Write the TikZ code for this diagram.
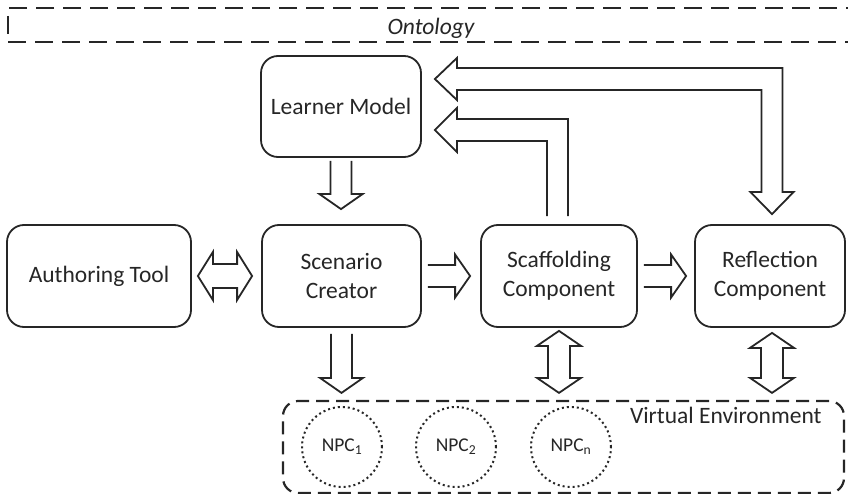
\documentclass[tikz,border=0pt]{standalone}
\usepackage{fontspec}
\setmainfont{Carlito}
\usetikzlibrary{calc}
\definecolor{ink}{HTML}{262626}

% block arrows (outlined, open at the tail)
\newcommand\downblock[2]{%
  \draw[blk] let \p1=(#1), \p2=(#2) in
    (\x1-10.5pt,\y1) -- (\x1-10.5pt,\y2+15pt) -- (\x1-21.5pt,\y2+15pt) -- (\x1,\y2)
    -- (\x1+21.5pt,\y2+15pt) -- (\x1+10.5pt,\y2+15pt) -- (\x1+10.5pt,\y1);}
\newcommand\rightblock[2]{%
  \draw[blk] let \p1=(#1), \p2=(#2) in
    (\x1,\y1+11pt) -- (\x2-15pt,\y1+11pt) -- (\x2-15pt,\y1+21.5pt) -- (\x2,\y1)
    -- (\x2-15pt,\y1-21.5pt) -- (\x2-15pt,\y1-11pt) -- (\x1,\y1-11pt);}
% double-headed block arrows (closed outline)
\newcommand\updownblock[2]{%
  \draw[blk] let \p1=(#1), \p2=(#2) in
    (\x1,\y1) -- (\x1+22pt,\y1-15pt) -- (\x1+11pt,\y1-15pt) -- (\x1+11pt,\y2+15pt)
    -- (\x1+22pt,\y2+15pt) -- (\x1,\y2) -- (\x1-22pt,\y2+15pt) -- (\x1-11pt,\y2+15pt)
    -- (\x1-11pt,\y1-15pt) -- (\x1-22pt,\y1-15pt) -- cycle;}
\newcommand\leftrightblock[2]{%
  \draw[blk] let \p1=(#1), \p2=(#2) in
    (\x1,\y1) -- (\x1+15pt,\y1+24pt) -- (\x1+15pt,\y1+12pt) -- (\x2-15pt,\y1+12pt)
    -- (\x2-15pt,\y1+24pt) -- (\x2,\y1) -- (\x2-15pt,\y1-24pt) -- (\x2-15pt,\y1-12pt)
    -- (\x1+15pt,\y1-12pt) -- (\x1+15pt,\y1-24pt) -- cycle;}

\begin{document}
\begin{tikzpicture}[x=1pt,y=-1pt,
  every node/.style={text=ink},
  txt/.style={font=\fontsize{23.5}{29}\selectfont},
  box/.style={txt, draw=ink, line width=1.8pt, rounded corners=17pt, align=center, inner sep=0pt},
  blk/.style={draw=ink, line width=1.8pt, line join=miter},
  ontozone/.style={draw=ink, line width=2.2pt, dash pattern=on 18pt off 9pt, inner sep=0pt},
  envzone/.style={draw=ink, line width=2.2pt, dash pattern=on 13pt off 7pt, rounded corners=15pt, inner sep=0pt},
  npc/.style={circle, draw=ink, line width=2pt, dash pattern=on 2pt off 3pt,
              minimum size=80pt, inner sep=0pt, font=\fontsize{19.5}{23}\selectfont},
]
\path[use as bounding box, clip] (0,0) rectangle (848,494);

% ontology band across the top
\node[ontozone, minimum width=870pt, minimum height=34pt, anchor=west] (onto) at (7,25) {};
\node[txt, font=\fontsize{23.5}{29}\selectfont\itshape] (ontolabel) at ($(onto.west)+(424,3)$) {Ontology};

% components
\node[box, minimum width=160pt, minimum height=101pt] (learner)  at (341,106.5) {Learner Model};
\node[box, minimum width=184pt, minimum height=102pt] (author)   at (99,276)    {Authoring Tool};
\node[box, minimum width=159pt, minimum height=102pt] (scenario) at (341.5,276) {Scenario\\Creator};
\node[box, minimum width=156pt, minimum height=102pt] (scaff)    at (559,276)   {Scaffolding\\Component};
\node[box, minimum width=150pt, minimum height=102pt] (refl)     at (770,276)   {Reflection\\Component};

% virtual environment with its NPCs
\node[envzone, minimum width=561pt, minimum height=92pt] (ve) at (563.5,447) {};
\node[txt, anchor=east] (velabel) at ($(ve.north east)+(-20,16)$) {Virtual Environment};
\node[npc] (npc1) at (342,447) {NPC\textsubscript{1}};
\node[npc] (npc2) at (456,447) {NPC\textsubscript{2}};
\node[npc] (npcn) at (571,447) {NPC\textsubscript{n}};

% straight block arrows
\downblock{$(learner.south)+(0,3)$}{$(scenario.north)+(0,-15)$}
\leftrightblock{$(author.east)+(6,0)$}{$(scenario.west)+(-9,0)$}
\rightblock{$(scenario.east)+(6,0)$}{$(scaff.west)+(-10,0)$}
\rightblock{$(scaff.east)+(6,0)$}{$(refl.west)+(-8,0)$}
\downblock{$(scenario.south)+(0,6)$}{$(ve.north -| scenario.south)+(0,-7)$}
\updownblock{$(scaff.south)+(0,3)$}{$(ve.north -| scaff.south)+(0,-7)$}
\updownblock{$(refl.south)+(2,5)$}{$(ve.north -| refl.south)+(2,-7)$}

% scaffolding feeds back to the learner model
\draw[blk] let \p1=($(scaff.north)+(-1.5,-8)$), \p2=($(learner.east)+(13,23.5)$) in
  (\x1-10.5pt,\y1) -- (\x1-10.5pt,\y2-11pt) -- (\x2+22pt,\y2-11pt) -- (\x2+22pt,\y2-22pt)
  -- (\x2,\y2) -- (\x2+22pt,\y2+22pt) -- (\x2+22pt,\y2+11pt) -- (\x1+10.5pt,\y2+11pt)
  -- (\x1+10.5pt,\y1);

% learner model <-> reflection loop
\draw[blk] let \p1=($(refl.north)+(2,-10)$), \p2=($(learner.east)+(13,-27.5)$) in
  (\x1,\y1) -- (\x1+21.5pt,\y1+22pt) -- (\x1+10.5pt,\y1+22pt) -- (\x1+10.5pt,\y2+11pt)
  -- (\x2+22pt,\y2+11pt) -- (\x2+22pt,\y2+21pt) -- (\x2,\y2) -- (\x2+22pt,\y2-21pt)
  -- (\x2+22pt,\y2-11pt) -- (\x1-10.5pt,\y2-11pt) -- (\x1-10.5pt,\y1+22pt)
  -- (\x1-21.5pt,\y1+22pt) -- cycle;
\end{tikzpicture}
\end{document}
